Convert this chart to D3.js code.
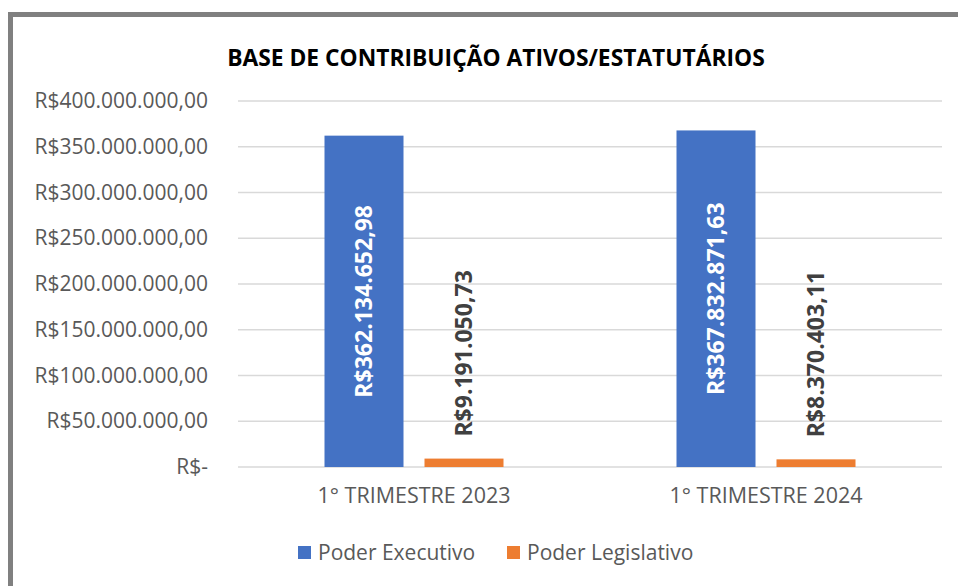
<!DOCTYPE html>
<html>
<head>
<meta charset="utf-8">
<script src="https://cdn.jsdelivr.net/npm/d3@7"></script>
<style>
  body { margin: 0; background: #fff; }
  text { font-family: "Open Sans", "Noto Sans", sans-serif; }
</style>
</head>
<body>
<div id="chart"></div>
<script>
// chart data
var categories = ["1° TRIMESTRE 2023", "1° TRIMESTRE 2024"];
var series = ["Poder Executivo", "Poder Legislativo"];
var executivo = [362134652.98, 367832871.63];
var legislativo = [9191050.73, 8370403.11];
var yTicks = [0, 50e6, 100e6, 150e6, 200e6, 250e6, 300e6, 350e6, 400e6];
var colors = ["#4472c4", "#ed7d31"];

var W = 958, H = 586;
var margin = {top: 101, right: 16, bottom: 119, left: 238},
    width = W - margin.left - margin.right,
    height = H - margin.top - margin.bottom;

// brazilian currency format
function brl(v, dec) {
    if (v === 0) return "R$-";
    var s = v.toFixed(dec).split(".");
    var ip = s[0].replace(/\B(?=(\d{3})+(?!\d))/g, ".");
    return "R$" + ip + "," + s[1];
}

var svg = d3.select("#chart")
    .append("svg")
    .attr("width", W)
    .attr("height", H);

// outer frame (runs off the right / bottom edge like the picture)
svg.append("rect")
    .attr("x", 10.5).attr("y", 14.5)
    .attr("width", 980).attr("height", 620)
    .attr("fill", "none")
    .attr("stroke", "#808080")
    .attr("stroke-width", 5);

svg.append("text")
    .attr("x", 496)
    .attr("y", 66)
    .attr("text-anchor", "middle")
    .style("font-size", "22.8px")
    .style("font-weight", "bold")
    .attr("fill", "#000")
    .text("BASE DE CONTRIBUIÇÃO ATIVOS/ESTATUTÁRIOS");

var g = svg.append("g")
    .attr("transform", "translate(" + margin.left + "," + margin.top + ")");

var y = d3.scaleLinear().domain([0, 400e6]).range([height, 0]);
var x0 = d3.scaleBand().domain(categories).range([0, width]);
var x1 = d3.scaleBand().domain(series).range([0, 179]).paddingInner(0.21).paddingOuter(0);

// gridlines
g.selectAll(".grid")
    .data(yTicks)
    .enter()
    .append("line")
    .attr("x1", 0).attr("x2", width)
    .attr("y1", function(d) { return y(d); })
    .attr("y2", function(d) { return y(d); })
    .attr("stroke", "#d9d9d9")
    .attr("stroke-width", 1.5);

// Y axis
var yAxis = g.append("g")
    .call(d3.axisLeft(y).tickValues(yTicks).tickSize(0).tickPadding(30)
        .tickFormat(function(d) { return brl(d, 2); }));
yAxis.select(".domain").remove();
yAxis.selectAll("text")
    .style("font-family", "'Open Sans', sans-serif")
    .style("font-size", "21px")
    .attr("fill", "#595959");

// X axis
var xAxis = g.append("g")
    .attr("transform", "translate(0," + height + ")")
    .call(d3.axisBottom(x0).tickSize(0).tickPadding(21));
xAxis.select(".domain").remove();
xAxis.selectAll("text")
    .style("font-family", "'Open Sans', sans-serif")
    .style("font-size", "21.5px")
    .attr("fill", "#595959");

var rows = categories.map(function(c, i) {
    return [{s: series[0], v: executivo[i], c: c, k: 0},
            {s: series[1], v: legislativo[i], c: c, k: 1}];
});

var groups = g.selectAll(".grp")
    .data(rows)
    .enter()
    .append("g")
    .attr("transform", function(d, i) {
        return "translate(" + (x0(categories[i]) + x0.bandwidth() / 2 - 89.5) + ",0)";
    });

//Bars
groups.selectAll("rect")
    .data(function(d) { return d; })
    .enter()
    .append("rect")
    .attr("x", function(d) { return x1(d.s); })
    .attr("y", function(d) { return y(d.v); })
    .attr("width", x1.bandwidth())
    .attr("height", function(d) { return height - y(d.v); })
    .attr("fill", function(d) { return colors[d.k]; });

// value labels, rotated
groups.selectAll(".lbl")
    .data(function(d) { return d; })
    .enter()
    .append("text")
    .attr("transform", function(d) {
        var cx = x1(d.s) + x1.bandwidth() / 2;
        var cy = d.k === 0 ? (y(d.v) + height) / 2 : y(d.v) - 22;
        return "translate(" + cx + "," + cy + ") rotate(-90)";
    })
    .attr("text-anchor", function(d) { return d.k === 0 ? "middle" : "start"; })
    .attr("dy", "0.36em")
    .style("font-size", "23px")
    .style("font-weight", "bold")
    .attr("fill", function(d) { return d.k === 0 ? "#fff" : "#404040"; })
    .text(function(d) { return brl(d.v, 2); });

// legend
var legX = [298, 507];
var leg = svg.selectAll(".leg")
    .data(series)
    .enter()
    .append("g")
    .attr("transform", function(d, i) { return "translate(" + legX[i] + ",546)"; });
leg.append("rect")
    .attr("width", 13).attr("height", 13)
    .attr("fill", function(d, i) { return colors[i]; });
leg.append("text")
    .attr("x", 20).attr("y", 14)
    .style("font-size", "21px")
    .attr("fill", "#595959")
    .text(function(d) { return d; });
</script>
</body>
</html>
